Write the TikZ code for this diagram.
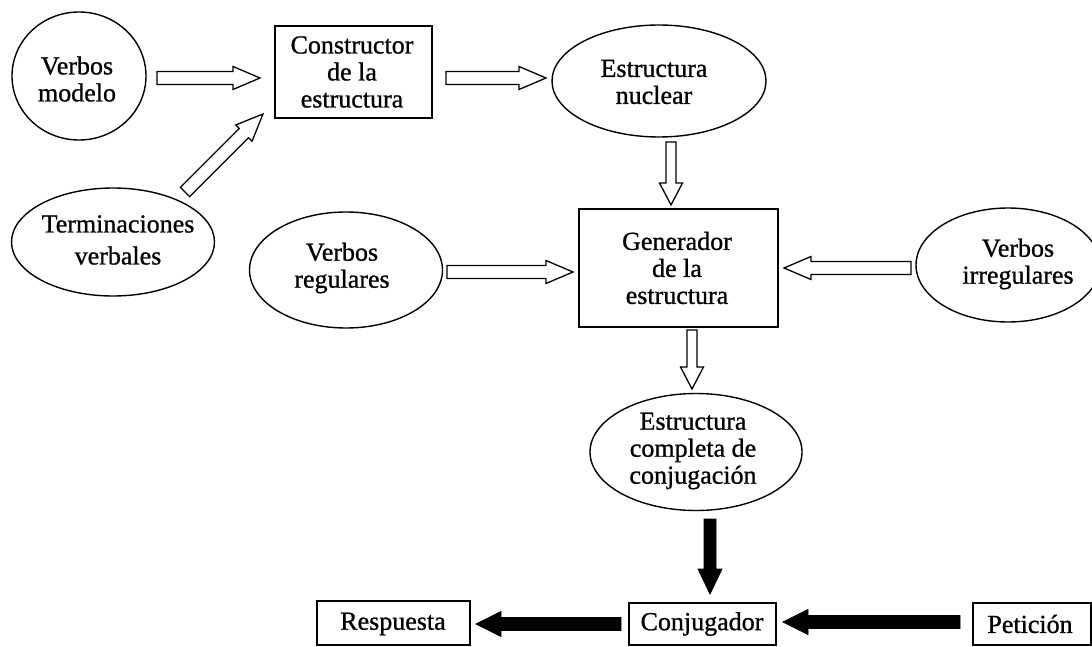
\documentclass[tikz,border=0pt]{standalone}
\usepackage{fontspec}
\setmainfont{Liberation Serif}[FakeBold=0.9]
\usetikzlibrary{calc,shapes.geometric}
\newcommand\fatarrow[6]{%
  \path[#1] ($(#2)!#4!90:(#3)$)
    -- ($(#3)!#6!(#2)!#4!90:(#3)$)
    -- ($(#3)!#6!(#2)!#5!90:(#3)$)
    -- (#3)
    -- ($(#3)!#6!(#2)!#5!-90:(#3)$)
    -- ($(#3)!#6!(#2)!#4!-90:(#3)$)
    -- ($(#2)!#4!-90:(#3)$) -- cycle;}
\begin{document}
\begin{tikzpicture}[x=1pt,y=-1pt,
  ell/.style={draw, ellipse, line width=1.4pt, inner sep=0pt},
  boxn/.style={draw, rectangle, line width=1.4pt, inner sep=0pt},
  txt/.style={align=center, inner sep=0pt},
  hollowarr/.style={draw, fill=white, line width=1.3pt, line join=miter},
  solidarr/.style={draw, fill=black, line width=0.8pt, line join=miter}]
\useasboundingbox (0,0) rectangle (1092,647);
\tikzset{every node/.append style={font=\fontsize{26}{21}\selectfont}}
% shapes
\node[ell, minimum width=134pt, minimum height=128pt] (vm) at (79,76) {};
\node[boxn, minimum width=157pt, minimum height=92pt] (cons) at (353.5,72) {};
\node[ell, minimum width=214pt, minimum height=112pt] (nuc) at (659,81) {};
\node[ell, minimum width=203pt, minimum height=108pt] (term) at (113,242) {};
\node[ell, minimum width=193pt, minimum height=116pt] (reg) at (346,270) {};
\node[boxn, minimum width=199pt, minimum height=118pt] (gen) at (678.5,268) {};
\node[ell, minimum width=184pt, minimum height=114pt] (irr) at (1008,265) {};
\node[ell, minimum width=212pt, minimum height=117pt] (comp) at (696,452) {};
\node[boxn, minimum width=153pt, minimum height=44pt] (resp) at (393.5,623) {};
\node[boxn, minimum width=147pt, minimum height=42pt] (conj) at (702.5,624) {};
\node[boxn, minimum width=118pt, minimum height=42pt] (pet) at (1032,624) {};
% texts
\node[txt, font=\fontsize{26}{27}\selectfont] (vm-t) at (77,79) {Verbos\\modelo};
\node[txt, font=\fontsize{26}{27}\selectfont] (cons-t) at (352,72) {Constructor\\de la\\estructura};
\node[txt, font=\fontsize{26}{27}\selectfont] (nuc-t) at (654,82) {Estructura\\nuclear};
\node[txt, font=\fontsize{26}{32}\selectfont] (term-t) at (118,240) {Terminaciones\\verbales};
\node[txt, font=\fontsize{26}{27}\selectfont] (reg-t) at (342,268) {Verbos\\regulares};
\node[txt, font=\fontsize{26}{27}\selectfont] (gen-t) at (677,268) {Generador\\de la\\estructura};
\node[txt, font=\fontsize{26}{27}\selectfont] (irr-t) at (1018,264) {Verbos\\irregulares};
\node[txt, font=\fontsize{26}{27}\selectfont] (comp-t) at (693,451) {Estructura\\completa de\\conjugación};
\node[txt] (resp-t) at (393,624) {Respuesta};
\node[txt] (conj-t) at (702,624) {Conjugador};
\node[txt] (pet-t) at (1030,624) {Petición};
% arrow end points
\coordinate (a1s) at (157,78);  \coordinate (a1e) at (260,78);
\coordinate (a2s) at (446,78);  \coordinate (a2e) at (546,78);
\coordinate (a3s) at (671,142); \coordinate (a3e) at (671,205);
\coordinate (ads) at (185,192); \coordinate (ade) at (263,114);
\coordinate (a4s) at (447,272); \coordinate (a4e) at (573,272);
\coordinate (a5s) at (911,268); \coordinate (a5e) at (784,268);
\coordinate (a6s) at (692,330); \coordinate (a6e) at (692,389);
\coordinate (b1s) at (710,519); \coordinate (b1e) at (710,594);
\coordinate (b2s) at (621,624); \coordinate (b2e) at (476,624);
\coordinate (b3s) at (960,622); \coordinate (b3e) at (783,622);
% hollow arrows
\fatarrow{hollowarr}{a1s}{a1e}{6.5pt}{11.5pt}{27pt}
\fatarrow{hollowarr}{a2s}{a2e}{6.5pt}{11.5pt}{27pt}
\fatarrow{hollowarr}{a3s}{a3e}{5pt}{11.5pt}{22pt}
\fatarrow{hollowarr}{ads}{ade}{6.5pt}{11.5pt}{27pt}
\fatarrow{hollowarr}{a4s}{a4e}{6.5pt}{11.5pt}{27pt}
\fatarrow{hollowarr}{a5s}{a5e}{6.5pt}{11.5pt}{27pt}
\fatarrow{hollowarr}{a6s}{a6e}{5pt}{11.5pt}{22pt}
% solid arrows
\fatarrow{solidarr}{b1s}{b1e}{6pt}{12pt}{25pt}
\fatarrow{solidarr}{b2s}{b2e}{6.5pt}{12.5pt}{25pt}
\fatarrow{solidarr}{b3s}{b3e}{6.5pt}{12.5pt}{25pt}
\end{tikzpicture}
\end{document}
